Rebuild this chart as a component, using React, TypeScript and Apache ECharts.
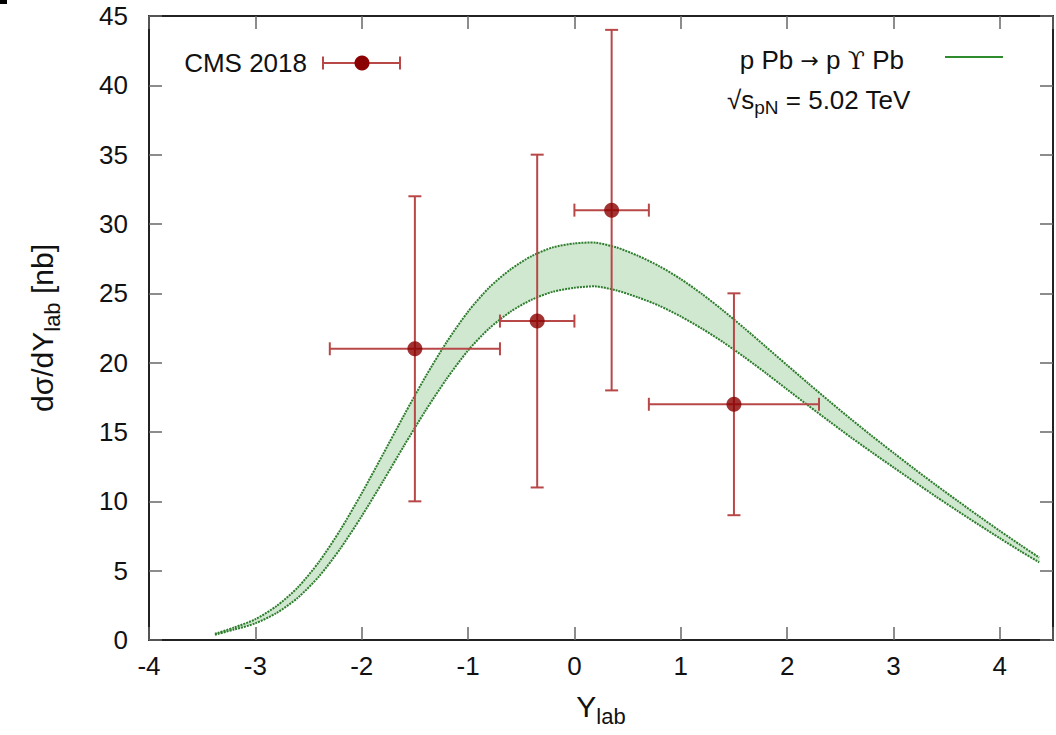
import React, { useEffect, useRef } from "react";
import * as echarts from "echarts";

// ---- Theory band (p Pb -> p Upsilon Pb, sqrt(s_pN) = 5.02 TeV) ----
const bandX = [
  -3.38, -3.2, -3.0, -2.8, -2.6, -2.4, -2.2, -2.0, -1.8, -1.6, -1.4, -1.2, -1.0, -0.8,
  -0.6, -0.4, -0.2, 0.0, 0.2, 0.4, 0.6, 0.8, 1.0, 1.2, 1.4, 1.6, 1.8, 2.0, 2.2, 2.4,
  2.6, 2.8, 3.0, 3.2, 3.4, 3.6, 3.8, 4.0, 4.2, 4.37,
];
const bandUpper = [
  0.45, 0.9, 1.5, 2.45, 3.8, 5.65, 7.95, 10.58, 13.39, 16.24, 18.99, 21.5, 23.68, 25.43,
  26.73, 27.7, 28.32, 28.6, 28.65, 28.3, 27.7, 26.95, 26.03, 24.95, 23.75, 22.47, 21.15, 19.82,
  18.5, 17.2, 15.93, 14.7, 13.5, 12.32, 11.17, 10.05, 8.95, 7.87, 6.82, 5.95,
];
const bandLower = [
  0.38, 0.75, 1.2, 1.95, 3.05, 4.6, 6.6, 8.93, 11.44, 14.04, 16.54, 18.85, 20.88, 22.48,
  23.68, 24.55, 25.12, 25.4, 25.5, 25.2, 24.7, 24.1, 23.33, 22.45, 21.47, 20.39, 19.25, 18.07,
  16.9, 15.75, 14.61, 13.52, 12.45, 11.39, 10.34, 9.32, 8.32, 7.34, 6.38, 5.6,
];

// ---- CMS 2018 data ----
const cmsX = [-1.5, -0.35, 0.35, 1.5];
const cmsY = [21, 23, 31, 17];
const cmsXLow = [-2.3, -0.7, 0.0, 0.7];
const cmsXHigh = [-0.7, 0.0, 0.7, 2.3];
const cmsYLow = [10, 11, 18, 9];
const cmsYHigh = [32, 35, 44, 25];

// ---- Axes ----
const xMin = -4;
const xMax = 4.5;
const xStep = 1;
const yMin = 0;
const yMax = 45;
const yStep = 5;

const FONT = '"Liberation Sans", Arial, Helvetica, sans-serif';
const ERR_COLOR = "#b84848";
const PT_COLOR = "#8b0000";
const BAND_LINE = "#2d7d2d";
const BAND_FILL = "#d0e7d0";
const AXIS_COLOR = "#222";
const TICK_COLOR = "#666";

export default function App() {
  const ref = useRef<HTMLDivElement>(null);

  useEffect(() => {
    if (!ref.current) return;
    const chart = echarts.init(ref.current, undefined, { renderer: "svg" });

    const richName = {
      m: { fontSize: 30, lineHeight: 30, fontFamily: FONT, color: "#111" },
      s: { fontSize: 22, lineHeight: 22, padding: [20, 0, 0, 0], fontFamily: FONT, color: "#111" },
    };

    const tickCommon = {
      inside: true,
      length: 13,
      lineStyle: { color: TICK_COLOR, width: 1.5 },
    };
    const lineCommon = { show: true, onZero: false, lineStyle: { color: AXIS_COLOR, width: 2 } };
    const intFmt = (v: number) => (Number.isInteger(v) ? String(v) : "");

    const bandData = bandX.map((x, i) => [x, bandLower[i], bandUpper[i]]);

    const option: any = {
      animation: false,
      backgroundColor: "#fff",
      grid: { left: 149, right: 2, top: 16, bottom: 95, containLabel: false },
      xAxis: [
        {
          type: "value",
          position: "bottom",
          min: xMin,
          max: xMax,
          interval: xStep,
          axisLine: lineCommon,
          axisTick: tickCommon,
          splitLine: { show: false },
          axisLabel: { fontSize: 26, color: "#111", fontFamily: FONT, margin: 13, formatter: intFmt },
          name: "{m|Y}{s|lab}",
          nameLocation: "middle",
          nameGap: 51,
          nameTextStyle: { rich: richName },
        },
        {
          type: "value",
          position: "top",
          min: xMin,
          max: xMax,
          interval: xStep,
          axisLine: lineCommon,
          axisTick: tickCommon,
          splitLine: { show: false },
          axisLabel: { show: false },
        },
      ],
      yAxis: [
        {
          type: "value",
          position: "left",
          min: yMin,
          max: yMax,
          interval: yStep,
          axisLine: lineCommon,
          axisTick: tickCommon,
          splitLine: { show: false },
          axisLabel: { fontSize: 26, color: "#111", fontFamily: FONT, margin: 21 },
          name: "{m|dσ/dY}{s|lab}{m| [nb]}",
          nameLocation: "middle",
          nameGap: 92,
          nameTextStyle: { rich: richName },
        },
        {
          type: "value",
          position: "right",
          min: yMin,
          max: yMax,
          interval: yStep,
          axisLine: lineCommon,
          axisTick: tickCommon,
          splitLine: { show: false },
          axisLabel: { show: false },
        },
      ],
      series: [
        {
          type: "custom",
          name: "band",
          data: bandData,
          encode: { x: 0, y: [1, 2] },
          z: 2,
          renderItem: (params: any, api: any) => {
            if (params.dataIndexInside !== 0) return null;
            const n = params.dataInsideLength;
            const lower: number[][] = [];
            const upper: number[][] = [];
            for (let j = 0; j < n; j++) {
              const x = api.value(0, j);
              lower.push(api.coord([x, api.value(1, j)]));
              upper.push(api.coord([x, api.value(2, j)]));
            }
            const poly = lower.concat(upper.slice().reverse());
            const lineStyle = {
              stroke: BAND_LINE,
              lineWidth: 2,
              lineDash: [2, 1],
              fill: "none",
            };
            return {
              type: "group",
              children: [
                {
                  type: "polygon",
                  shape: { points: poly, smooth: 0.25 },
                  style: { fill: BAND_FILL, stroke: "none" },
                },
                { type: "polyline", shape: { points: lower, smooth: 0.25 }, style: lineStyle },
                { type: "polyline", shape: { points: upper, smooth: 0.25 }, style: lineStyle },
              ],
            };
          },
        },
        {
          type: "custom",
          name: "CMS errors",
          data: cmsX.map((x, i) => [x, cmsY[i], cmsXLow[i], cmsXHigh[i], cmsYLow[i], cmsYHigh[i]]),
          encode: { x: 0, y: 1 },
          z: 5,
          renderItem: (params: any, api: any) => {
            const x = api.value(0);
            const y = api.value(1);
            const pL = api.coord([api.value(2), y]);
            const pR = api.coord([api.value(3), y]);
            const pB = api.coord([x, api.value(4)]);
            const pT = api.coord([x, api.value(5)]);
            const cap = 6.5;
            const style = { stroke: ERR_COLOR, lineWidth: 2, fill: "none" };
            const ln = (x1: number, y1: number, x2: number, y2: number) => ({
              type: "line",
              shape: { x1, y1, x2, y2 },
              style,
            });
            return {
              type: "group",
              children: [
                ln(pL[0], pL[1], pR[0], pR[1]),
                ln(pB[0], pB[1], pT[0], pT[1]),
                ln(pL[0], pL[1] - cap, pL[0], pL[1] + cap),
                ln(pR[0], pR[1] - cap, pR[0], pR[1] + cap),
                ln(pB[0] - cap, pB[1], pB[0] + cap, pB[1]),
                ln(pT[0] - cap, pT[1], pT[0] + cap, pT[1]),
              ],
            };
          },
        },
        {
          type: "scatter",
          name: "CMS 2018",
          data: cmsX.map((x, i) => [x, cmsY[i]]),
          symbol: "circle",
          symbolSize: 15,
          itemStyle: { color: PT_COLOR },
          z: 6,
        },
      ],
      graphic: [
        { type: "rect", shape: { x: 0, y: 0, width: 7, height: 4 }, style: { fill: "#000" } },
        // CMS legend
        {
          type: "text",
          style: {
            text: "CMS 2018",
            x: 307,
            y: 63,
            align: "right",
            verticalAlign: "middle",
            fontSize: 26,
            fontFamily: FONT,
            fill: "#111",
          },
        },
        { type: "line", shape: { x1: 323, y1: 63, x2: 400, y2: 63 }, style: { stroke: ERR_COLOR, lineWidth: 2 } },
        { type: "line", shape: { x1: 323, y1: 56.5, x2: 323, y2: 69.5 }, style: { stroke: ERR_COLOR, lineWidth: 2 } },
        { type: "line", shape: { x1: 400, y1: 56.5, x2: 400, y2: 69.5 }, style: { stroke: ERR_COLOR, lineWidth: 2 } },
        { type: "circle", shape: { cx: 362, cy: 63, r: 7.5 }, style: { fill: PT_COLOR } },
        // Theory legend
        {
          type: "text",
          style: {
            text: "{m|p Pb }{a|→}{m| p }{u|ϒ}{m| Pb}",
            x: 904,
            y: 60,
            align: "right",
            verticalAlign: "middle",
            rich: {
              m: { fontSize: 26, fontFamily: FONT, fill: "#111" },
              a: { fontSize: 22, fontFamily: '"DejaVu Sans", sans-serif', fill: "#111" },
              u: { fontSize: 25, fontFamily: '"DejaVu Serif", serif', fill: "#111" },
            },
          },
        },
        { type: "line", shape: { x1: 945, y1: 57, x2: 1003, y2: 57 }, style: { stroke: "#2e8b2e", lineWidth: 2 } },
        {
          type: "text",
          style: {
            text: "{m|√s}{s|pN}{m| = 5.02 TeV}",
            x: 727,
            y: 100,
            align: "left",
            verticalAlign: "middle",
            rich: {
              m: { fontSize: 26, lineHeight: 26, fontFamily: FONT, fill: "#111" },
              s: { fontSize: 19, lineHeight: 19, padding: [15, 0, 0, 0], fontFamily: FONT, fill: "#111" },
            },
          },
        },
      ],
    };

    chart.setOption(option);
    return () => chart.dispose();
  }, []);

  return (
    <div
      ref={ref}
      style={{ position: "fixed", left: 0, top: 0, width: 1056, height: 735, background: "#fff" }}
    />
  );
}
